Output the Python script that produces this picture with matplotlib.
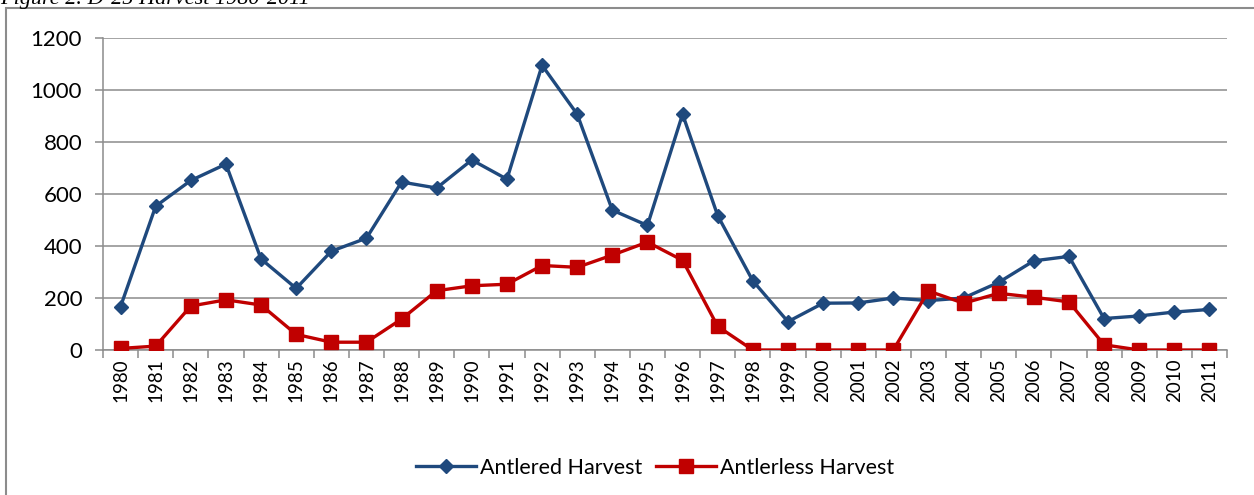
import matplotlib.pyplot as plt
from matplotlib.patches import Rectangle

years = [str(y) for y in range(1980, 2012)]
antlered = [167, 553, 652, 715, 350, 237, 380, 430, 646, 623, 731, 657,
            1095, 907, 538, 479, 907, 517, 266, 109, 180, 181, 200, 190,
            200, 260, 343, 360, 121, 131, 146, 156]
antlerless = [6, 15, 169, 193, 173, 60, 30, 30, 119, 228, 247, 253,
              325, 318, 365, 415, 345, 91, 0, 0, 0, 0, 0, 227,
              180, 218, 203, 185, 20, 0, 0, 0]

plt.rcParams["font.family"] = ["Lato", "DejaVu Sans"]

fig = plt.figure(figsize=(12.54, 4.95), dpi=100)
ax = fig.add_axes([103 / 1254, 1 - 350 / 495, (1227 - 103) / 1254, (350 - 38) / 495])

x = list(range(len(years)))
ax.plot(x, antlered, color="#1F497D", lw=2.4, marker="D", markersize=7,
        label="Antlered Harvest", zorder=3)
ax.plot(x, antlerless, color="#C00000", lw=2.4, marker="s", markersize=10,
        label="Antlerless Harvest", zorder=3)

ax.set_xlim(-0.5, len(years) - 0.5)
ax.set_ylim(0, 1200)
ax.set_yticks(range(0, 1201, 200))
ax.yaxis.grid(True, color="#8C8C8C", lw=1.1)
ax.set_axisbelow(True)

ax.set_xticks(x)
ax.set_xticklabels(years, rotation=90, fontsize=13.5)
ax.tick_params(axis="x", length=0, pad=6)
ax.set_xticks([i - 0.5 for i in range(len(years) + 1)], minor=True)
ax.tick_params(axis="x", which="minor", length=6, color="#8C8C8C", width=1.1)
ax.tick_params(axis="y", labelsize=16, length=6, color="#8C8C8C", width=1.1, pad=9)

for s in ["top", "right"]:
    ax.spines[s].set_visible(False)
for s in ["left", "bottom"]:
    ax.spines[s].set_color("#8C8C8C")
    ax.spines[s].set_linewidth(1.1)

fig.legend(loc="center", bbox_to_anchor=(655 / 1254, 1 - 468 / 495), ncol=2,
           frameon=False, fontsize=15.5, handlelength=2.8, columnspacing=0.6,
           handletextpad=0.2)

# outer chart frame
fig.patches.append(Rectangle((6 / 1254, -0.1), 1.2, 1 - 8 / 495 + 0.1,
                             transform=fig.transFigure, fill=False,
                             edgecolor="#8C8C8C", lw=1.5))

fig.text(0.0, 1 - 4 / 495, "Figure 2. D-25 Harvest 1980-2011", fontsize=16,
         style="italic", family="Liberation Serif", va="baseline", ha="left")

fig.savefig("out.png", dpi=100)
